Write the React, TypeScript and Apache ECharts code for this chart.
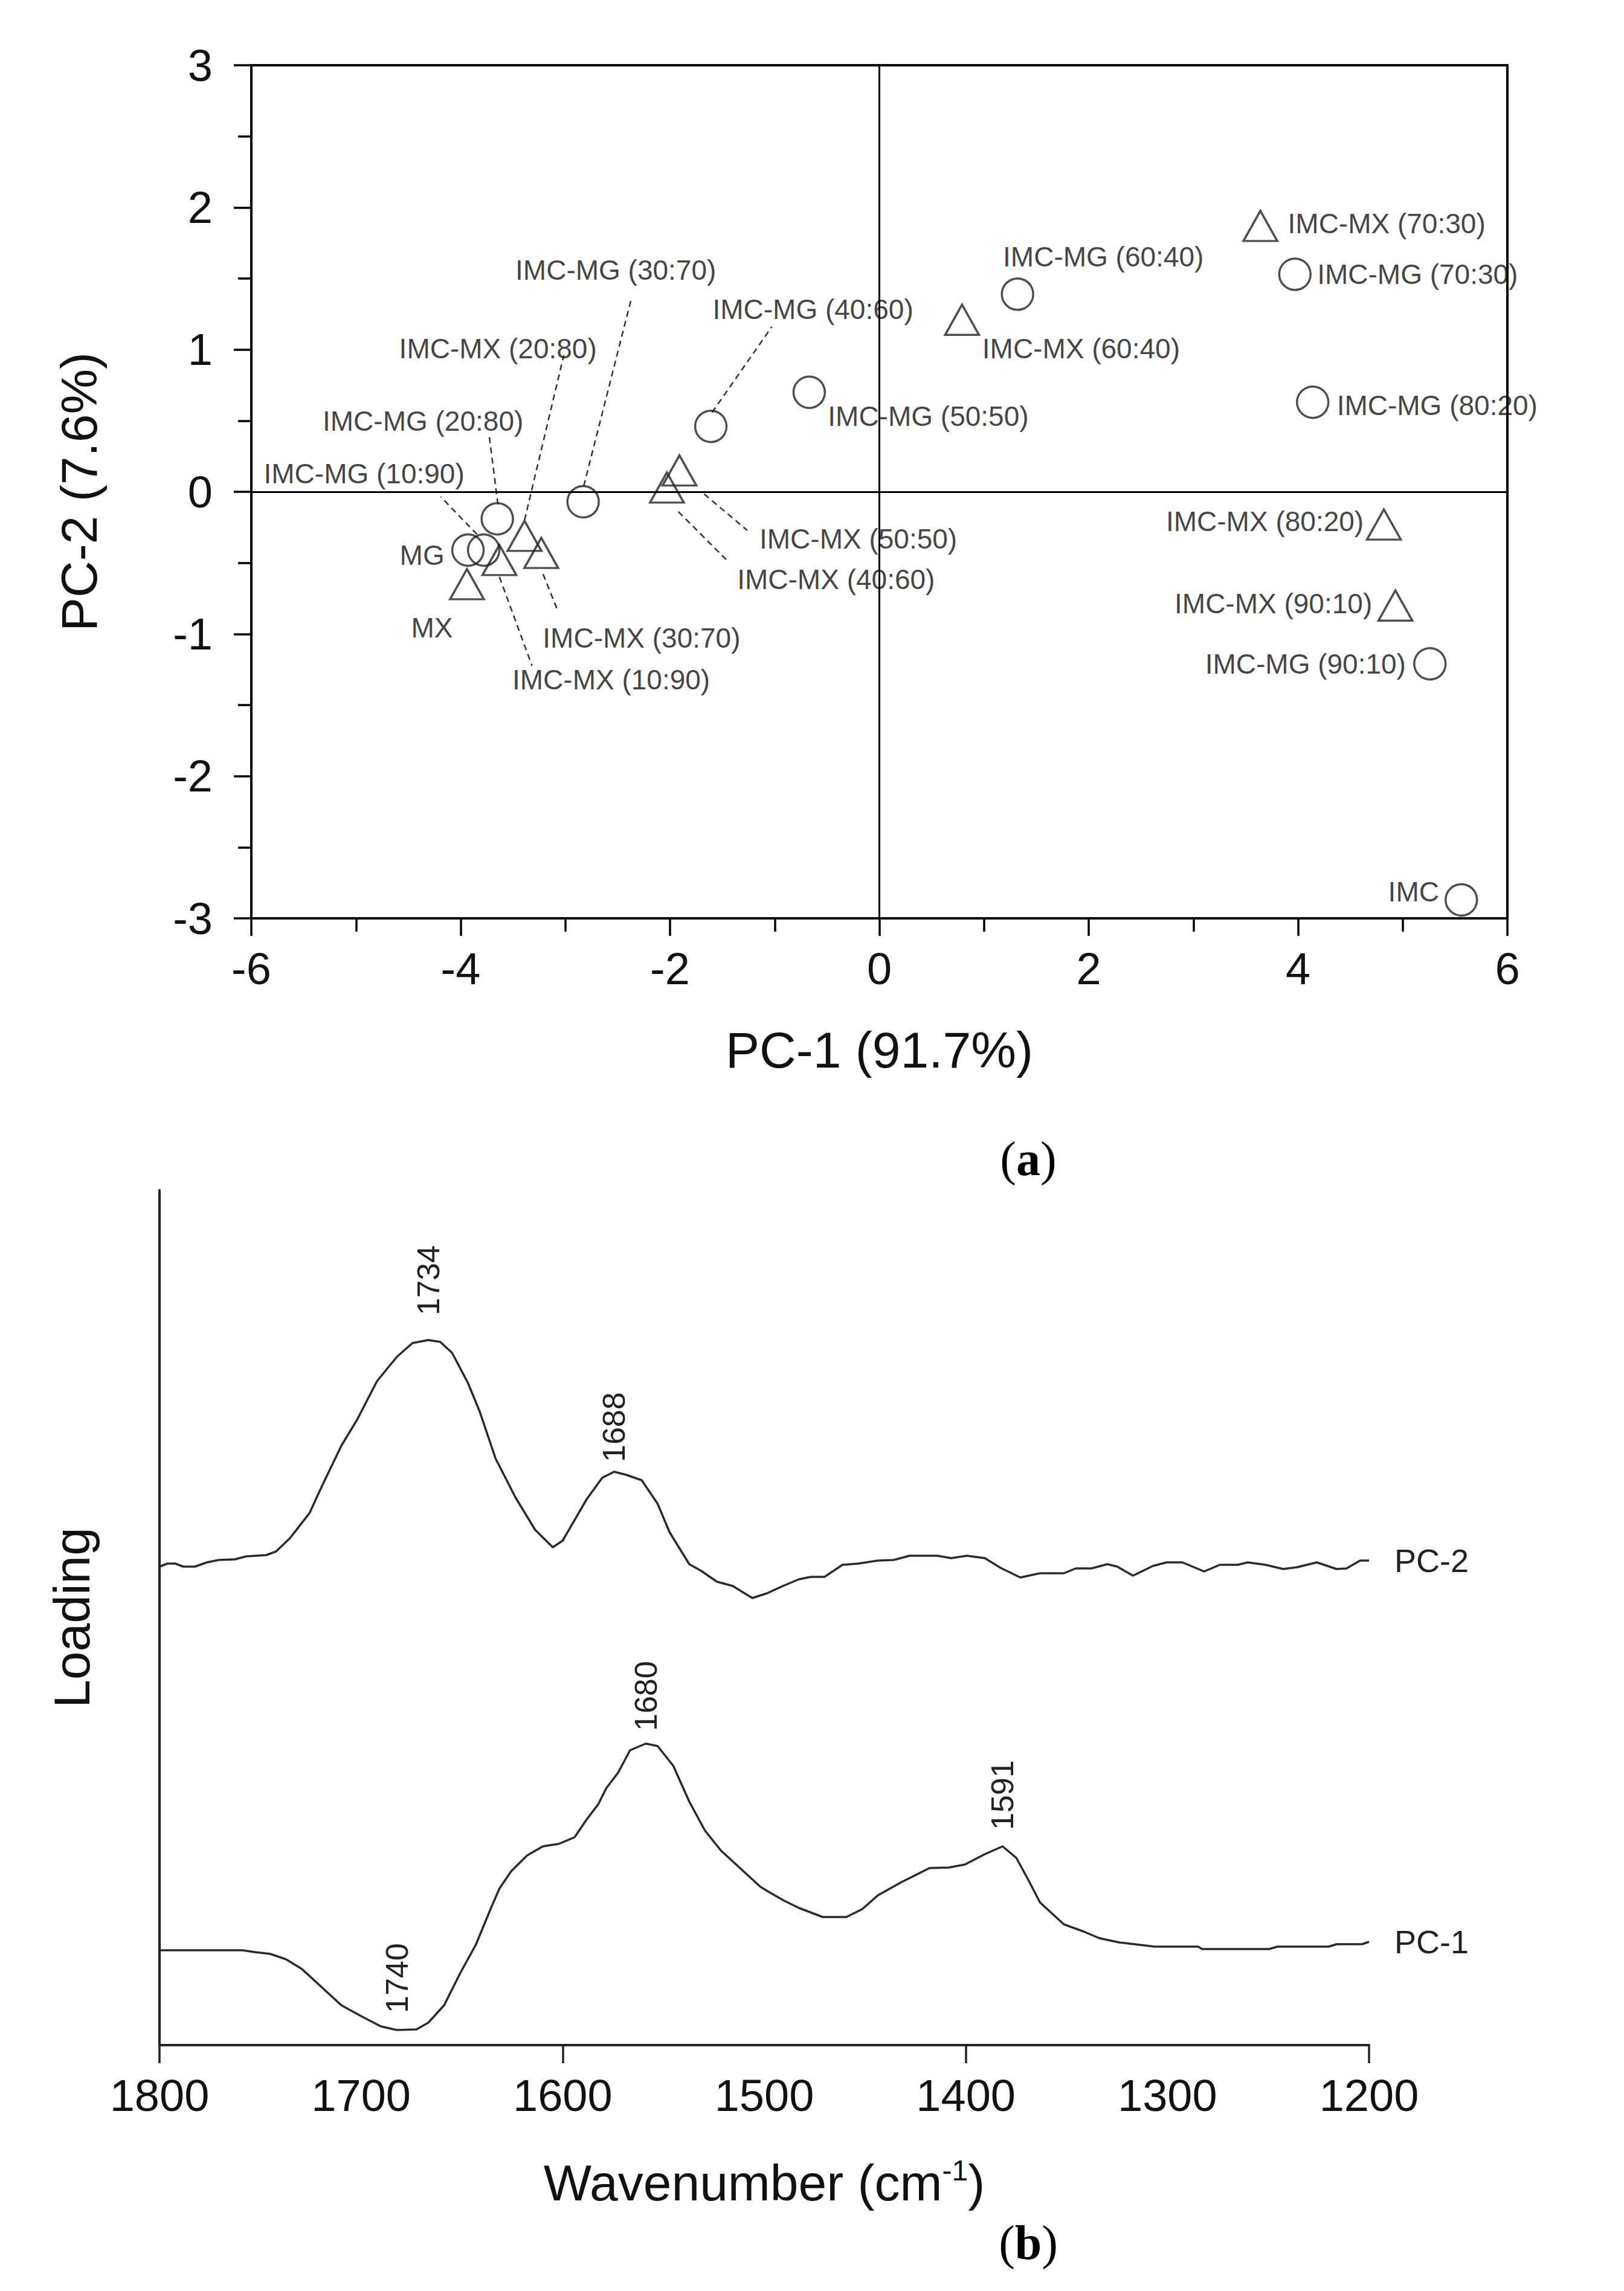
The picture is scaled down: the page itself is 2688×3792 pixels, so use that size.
import React, { useEffect, useRef } from 'react';
import * as echarts from 'echarts';

// ---------- Panel (a): PCA scores ----------
const mgNames = ['MG', 'IMC-MG (10:90)', 'IMC-MG (20:80)', 'IMC-MG (30:70)', 'IMC-MG (40:60)', 'IMC-MG (50:50)', 'IMC-MG (60:40)', 'IMC-MG (70:30)', 'IMC-MG (80:20)', 'IMC-MG (90:10)', 'IMC'];
const mgPC1 = [-3.93, -3.78, -3.65, -2.83, -1.61, -0.67, 1.32, 3.97, 4.14, 5.26, 5.56];
const mgPC2 = [-0.41, -0.41, -0.19, -0.07, 0.46, 0.70, 1.39, 1.53, 0.63, -1.21, -2.87];

const mxNames = ['MX', 'IMC-MX (10:90)', 'IMC-MX (20:80)', 'IMC-MX (30:70)', 'IMC-MX (40:60)', 'IMC-MX (50:50)', 'IMC-MX (60:40)', 'IMC-MX (70:30)', 'IMC-MX (80:20)', 'IMC-MX (90:10)'];
const mxPC1 = [-3.94, -3.63, -3.39, -3.23, -2.03, -1.91, 0.79, 3.64, 4.82, 4.93];
const mxPC2 = [-0.65, -0.48, -0.31, -0.43, 0.03, 0.15, 1.21, 1.87, -0.23, -0.80];

// label placement (pixel offset of label centre from the marker centre)
const mgLabelOffset = [[-76, 9], [-198, -126], [-123, -162], [54, -383], [169, -194], [197, 40], [142, -62], [203, 0], [206, 5], [-206, 0], [-79, -13]];
const mxLabelOffset = [[-58, 72], [185, 198], [-44, -310], [166, 141], [280, 152], [296, 113], [197, 48], [209, -4], [-197, -5], [-202, -3]];
// dashed leader lines (pixel offsets from marker centre: x1, y1, x2, y2)
const mgLeader = [null, [-11, -26, -71, -88], [1, -24, -14, -142], [1, -26, 79, -333], [2, -23, 101, -165], null, null, null, null, null, null];
const mxLeader = [null, [0, 28, 54, 175], [0, -26, 65, -299], [3, 35, 27, 95], [19, 40, 102, 123], [41, 39, 112, 99], null, null, null, null];

const pcXTicks = { min: -6, max: 6, interval: 2 };
const pcYTicks = { min: -3, max: 3, interval: 1 };

// ---------- Panel (b): loadings ----------
const pc2Wavenumber = [1800, 1796.1, 1792.2, 1788.2, 1782.4, 1776.5, 1770.6, 1762.7, 1756.9, 1747.1, 1742.2, 1735.3, 1725.5, 1719.6, 1709.8, 1702.0, 1692.1, 1682.3, 1674.5, 1666.7, 1660.8, 1654.9, 1647.0, 1641.2, 1633.3, 1623.5, 1613.7, 1604.9, 1600.0, 1588.2, 1580.4, 1574.5, 1568.6, 1560.8, 1552.9, 1547.0, 1537.2, 1531.3, 1523.5, 1515.7, 1505.9, 1498.5, 1490.7, 1482.8, 1476.9, 1470.1, 1461.2, 1453.4, 1443.6, 1435.8, 1427.9, 1414.2, 1407.3, 1399.5, 1390.6, 1382.8, 1373.0, 1363.2, 1351.4, 1345.5, 1337.7, 1329.8, 1324.9, 1317.1, 1307.3, 1300.4, 1292.6, 1281.8, 1274.0, 1265.1, 1260.2, 1251.4, 1242.6, 1235.7, 1225.9, 1216.1, 1211.2, 1204.4, 1200];
const pc2Loading = [7.92, 7.97, 7.97, 7.92, 7.92, 7.99, 8.03, 8.04, 8.09, 8.11, 8.17, 8.39, 8.81, 9.24, 9.92, 10.35, 10.99, 11.39, 11.62, 11.67, 11.64, 11.46, 10.96, 10.49, 9.71, 9.07, 8.53, 8.24, 8.35, 9.03, 9.39, 9.49, 9.44, 9.35, 8.96, 8.49, 7.96, 7.85, 7.67, 7.60, 7.40, 7.48, 7.60, 7.71, 7.75, 7.75, 7.95, 7.97, 8.02, 8.03, 8.10, 8.10, 8.06, 8.10, 8.06, 7.90, 7.74, 7.81, 7.81, 7.89, 7.89, 7.96, 7.92, 7.77, 7.93, 7.99, 7.99, 7.84, 7.95, 7.95, 7.99, 7.95, 7.88, 7.91, 7.99, 7.88, 7.89, 8.02, 8.02];

const pc1Wavenumber = [1800, 1780.4, 1758.8, 1752.9, 1745.1, 1737.2, 1729.4, 1719.6, 1709.8, 1700.0, 1690.2, 1682.3, 1672.5, 1666.7, 1658.8, 1651.0, 1643.1, 1635.3, 1631.4, 1625.5, 1617.6, 1609.8, 1602.0, 1594.1, 1588.2, 1582.3, 1578.4, 1572.5, 1566.6, 1558.8, 1552.9, 1545.1, 1537.2, 1529.4, 1521.5, 1511.7, 1501.9, 1498.5, 1490.7, 1482.8, 1471.0, 1459.3, 1451.4, 1443.6, 1431.8, 1418.1, 1408.3, 1400.4, 1390.6, 1381.8, 1375.0, 1369.1, 1363.2, 1351.4, 1341.6, 1333.8, 1324.0, 1306.3, 1284.8, 1282.8, 1249.5, 1245.5, 1220.0, 1216.1, 1203.4, 1200];
const pc1Loading = [1.57, 1.57, 1.57, 1.54, 1.51, 1.42, 1.26, 0.96, 0.66, 0.48, 0.31, 0.25, 0.26, 0.37, 0.66, 1.18, 1.66, 2.29, 2.59, 2.88, 3.14, 3.29, 3.33, 3.44, 3.73, 3.99, 4.25, 4.51, 4.88, 4.99, 4.95, 4.62, 4.03, 3.55, 3.22, 2.92, 2.62, 2.55, 2.40, 2.27, 2.12, 2.12, 2.25, 2.48, 2.70, 2.93, 2.94, 2.99, 3.16, 3.29, 3.10, 2.74, 2.36, 2.00, 1.88, 1.77, 1.70, 1.63, 1.63, 1.59, 1.59, 1.63, 1.63, 1.67, 1.67, 1.71];

const pc2Peaks = [{ w: 1666.7, text: '1734', distance: 40 }, { w: 1574.5, text: '1688', distance: 15 }];
const pc1Peaks = [{ w: 1558.8, text: '1680', distance: 20 }, { w: 1381.8, text: '1591', distance: 26 }, { w: 1682.3, text: '1740', distance: 27 }];

const wnLabelTicks = { min: 1200, max: 1800, interval: 100 };
const wnMarkTicks = { min: 1200, max: 1800, interval: 200 };

const SANS = 'Liberation Sans, Arial, Helvetica, sans-serif';
const SERIF = 'Liberation Serif, Times New Roman, serif';
const INK = '#111';

function buildOption() {
  const mgData = mgNames.map((n, i) => ({
    name: n,
    value: [mgPC1[i], mgPC2[i]],
    label: { offset: mgLabelOffset[i] },
  }));
  const mxData = mxNames.map((n, i) => ({
    name: n,
    value: [mxPC1[i], mxPC2[i]],
    label: { offset: mxLabelOffset[i] },
  }));
  const leaders: number[][] = [];
  mgLeader.forEach((s, i) => { if (s) leaders.push([mgPC1[i], mgPC2[i], ...s]); });
  mxLeader.forEach((s, i) => { if (s) leaders.push([mxPC1[i], mxPC2[i], ...s]); });

  const mkLine = (wn: number[], ld: number[], peaks: { w: number; text: string; distance: number }[]) =>
    wn.map((w, i) => {
      const pk = peaks.find((p) => p.w === w);
      if (!pk) return [w, ld[i]];
      return {
        value: [w, ld[i]],
        symbol: 'circle',
        symbolSize: 2,
        label: { show: true, formatter: pk.text, distance: pk.distance },
      };
    });

  const scatterLabel = {
    show: true,
    position: 'inside',
    formatter: '{b}',
    fontSize: 46,
    fontFamily: SANS,
    color: INK,
  };
  const markerStyle = { color: 'rgba(0,0,0,0)', borderColor: '#222', borderWidth: 3.5 };

  const peakLabel = {
    show: false,
    position: 'top',
    rotate: 90,
    align: 'left',
    verticalAlign: 'middle',
    fontSize: 52,
    fontFamily: SANS,
    color: '#222',
  };

  const endLabelStyle = { show: true, fontSize: 54, fontFamily: SANS, color: '#222', align: 'left', verticalAlign: 'middle', distance: -42 };

  return {
    animation: false,
    backgroundColor: '#fff',
    grid: [
      { left: 416, top: 108, width: 2079, height: 1412, show: true, borderColor: '#000', borderWidth: 4, backgroundColor: 'transparent', outerBoundsMode: 'none' },
      { left: 264, top: 1970, width: 2002, height: 1415, outerBoundsMode: 'none' },
    ],
    xAxis: [
      {
        type: 'value', gridIndex: 0, position: 'bottom', ...pcXTicks,
        name: 'PC-1 (91.7%)', nameLocation: 'middle', nameGap: 176, nameMoveOverlap: false,
        nameTextStyle: { fontSize: 84, fontFamily: SANS, color: INK },
        axisLine: { show: true, onZero: false, lineStyle: { color: '#000', width: 4 } },
        axisTick: { show: true, length: 29, lineStyle: { color: '#000', width: 3.5 } },
        minorTick: { show: true, splitNumber: 2, length: 22, lineStyle: { color: '#000', width: 3.5 } },
        splitLine: { show: false }, minorSplitLine: { show: false },
        axisLabel: { fontSize: 74, fontFamily: SANS, color: INK, margin: 46 },
      },
      {
        type: 'value', gridIndex: 1, position: 'bottom', inverse: true, ...wnLabelTicks,
        name: 'Wavenumber (cm{sup|-1})', nameLocation: 'middle', nameGap: 183, nameMoveOverlap: false,
        nameTextStyle: {
          fontSize: 84, fontFamily: SANS, color: INK, lineHeight: 90,
          rich: { sup: { fontSize: 48, fontFamily: SANS, color: INK, verticalAlign: 'top', lineHeight: 48 } },
        },
        axisLine: { show: true, onZero: false, lineStyle: { color: '#222', width: 4 } },
        axisTick: { show: false },
        splitLine: { show: false },
        axisLabel: { fontSize: 74, fontFamily: SANS, color: INK, margin: 46, formatter: (v: number) => String(v) },
      },
      {
        type: 'value', gridIndex: 1, position: 'bottom', inverse: true, ...wnMarkTicks,
        axisLine: { show: false, onZero: false },
        axisTick: { show: true, length: 30, lineStyle: { color: '#222', width: 3.5 } },
        axisLabel: { show: false },
        splitLine: { show: false },
      },
    ],
    yAxis: [
      {
        type: 'value', gridIndex: 0, position: 'left', ...pcYTicks,
        name: 'PC-2 (7.6%)', nameLocation: 'middle', nameGap: 243, nameMoveOverlap: false,
        nameTextStyle: { fontSize: 84, fontFamily: SANS, color: INK },
        axisLine: { show: true, onZero: false, lineStyle: { color: '#000', width: 4 } },
        axisTick: { show: true, length: 29, lineStyle: { color: '#000', width: 3.5 } },
        minorTick: { show: true, splitNumber: 2, length: 22, lineStyle: { color: '#000', width: 3.5 } },
        splitLine: { show: false }, minorSplitLine: { show: false },
        axisLabel: { fontSize: 74, fontFamily: SANS, color: INK, margin: 64 },
      },
      {
        type: 'value', gridIndex: 1, position: 'left', min: 0, max: 14.15,
        name: 'Loading', nameLocation: 'middle', nameGap: 103, nameMoveOverlap: false,
        nameTextStyle: { fontSize: 84, fontFamily: SANS, color: INK },
        axisLine: { show: true, onZero: false, lineStyle: { color: '#222', width: 4 } },
        axisTick: { show: false },
        axisLabel: { show: false },
        splitLine: { show: false },
      },
    ],
    series: [
      {
        type: 'custom', name: 'leaders', coordinateSystem: 'cartesian2d', xAxisIndex: 0, yAxisIndex: 0,
        silent: true, z: 1,
        data: leaders,
        renderItem: (_params: any, api: any) => {
          const p = api.coord([api.value(0), api.value(1)]);
          return {
            type: 'line',
            shape: { x1: p[0] + api.value(2), y1: p[1] + api.value(3), x2: p[0] + api.value(4), y2: p[1] + api.value(5) },
            style: { stroke: '#333', lineWidth: 2.5, lineDash: [10, 7] },
          };
        },
      },
      {
        type: 'scatter', name: 'MG', xAxisIndex: 0, yAxisIndex: 0, z: 3,
        symbol: 'circle', symbolSize: 52,
        itemStyle: markerStyle,
        label: scatterLabel,
        data: mgData,
        markLine: {
          silent: true, symbol: ['none', 'none'], label: { show: false },
          lineStyle: { color: '#000', width: 3, type: 'solid' },
          data: [{ xAxis: 0 }, { yAxis: 0 }],
        },
      },
      {
        type: 'scatter', name: 'MX', xAxisIndex: 0, yAxisIndex: 0, z: 3,
        symbol: 'triangle', symbolSize: [56, 50],
        itemStyle: markerStyle,
        label: scatterLabel,
        data: mxData,
      },
      {
        type: 'line', name: 'PC-2', xAxisIndex: 1, yAxisIndex: 1,
        symbol: 'none', showSymbol: true, smooth: false,
        lineStyle: { color: '#2a2a2a', width: 3.5 },
        itemStyle: { color: '#2a2a2a' },
        label: peakLabel,
        endLabel: { ...endLabelStyle, formatter: 'PC-2' },
        data: mkLine(pc2Wavenumber, pc2Loading, pc2Peaks),
      },
      {
        type: 'line', name: 'PC-1', xAxisIndex: 1, yAxisIndex: 1,
        symbol: 'none', showSymbol: true, smooth: false,
        lineStyle: { color: '#2a2a2a', width: 3.5 },
        itemStyle: { color: '#2a2a2a' },
        label: peakLabel,
        endLabel: { ...endLabelStyle, formatter: 'PC-1' },
        data: mkLine(pc1Wavenumber, pc1Loading, pc1Peaks),
      },
    ],
    graphic: [
      {
        type: 'text', x: 1702, y: 1918,
        style: {
          text: '({b|a})', fontSize: 80, fontFamily: SERIF, fill: '#000', align: 'center', verticalAlign: 'middle',
          rich: { b: { fontSize: 80, fontFamily: SERIF, fontWeight: 'bold', fill: '#000' } },
        },
      },
      {
        type: 'text', x: 1702, y: 3712,
        style: {
          text: '({b|b})', fontSize: 80, fontFamily: SERIF, fill: '#000', align: 'center', verticalAlign: 'middle',
          rich: { b: { fontSize: 80, fontFamily: SERIF, fontWeight: 'bold', fill: '#000' } },
        },
      },
    ],
  };
}

export default function App() {
  const ref = useRef<HTMLDivElement>(null);
  useEffect(() => {
    if (!ref.current) return;
    const chart = echarts.init(ref.current, null, { renderer: 'svg' });
    chart.setOption(buildOption() as any);
    return () => chart.dispose();
  }, []);
  return (
    <div
      ref={ref}
      style={{ position: 'absolute', left: 0, top: 0, width: 2688, height: 3792, background: '#fff' }}
    />
  );
}
